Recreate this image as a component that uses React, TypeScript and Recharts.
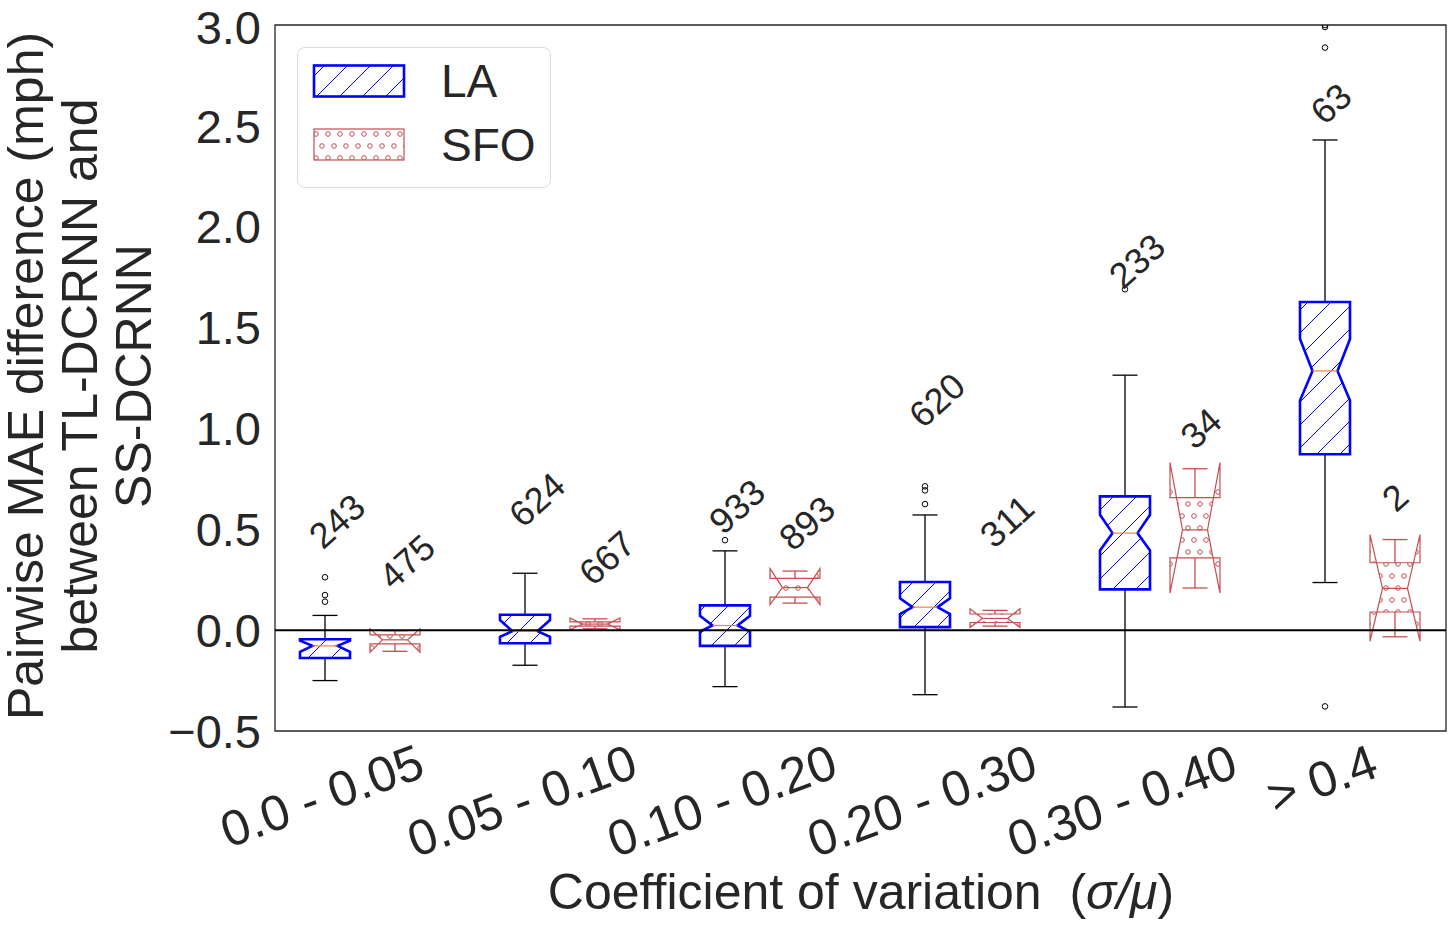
import { ComposedChart, Bar, XAxis, YAxis, ReferenceLine, ReferenceArea, Legend } from 'recharts';

// x categories (coefficient of variation bins)
const categories = ['0.0 - 0.05', '0.05 - 0.10', '0.10 - 0.20', '0.20 - 0.30', '0.30 - 0.40', '> 0.4'];

// LA box stats
const laWhiskerLow = [-0.25, -0.174, -0.28, -0.32, -0.381, 0.236];
const laQ1 = [-0.138, -0.065, -0.078, 0.015, 0.202, 0.872];
const laNotchLow = [-0.108, -0.033, -0.007, 0.08, 0.395, 1.138];
const laMedian = [-0.078, -0.005, 0.023, 0.114, 0.481, 1.285];
const laNotchHigh = [-0.052, 0.05, 0.071, 0.158, 0.572, 1.443];
const laQ3 = [-0.045, 0.076, 0.123, 0.239, 0.663, 1.627];
const laWhiskerHigh = [0.073, 0.282, 0.393, 0.571, 1.264, 2.43];
const laOutliers = [[0.262, 0.174, 0.141], [], [0.446], [0.625, 0.693, 0.713], [1.69], [2.99, 3.0, 2.888, -0.378]];
const laCounts = [243, 624, 933, 620, 233, 63];
const laCountY = [0.54, 0.647, 0.613, 1.14, 1.83, 2.61];

// SFO box stats
const sfoWhiskerLow = [-0.105, 0.007, 0.134, 0.02, 0.209, -0.033];
const sfoQ1 = [-0.068, 0.02, 0.164, 0.038, 0.358, 0.09];
const sfoNotchLow = [-0.11, 0.002, 0.126, 0.013, 0.184, -0.055];
const sfoMedian = [-0.048, 0.03, 0.211, 0.058, 0.497, 0.207];
const sfoNotchHigh = [0.007, 0.06, 0.305, 0.106, 0.831, 0.474];
const sfoQ3 = [-0.023, 0.041, 0.257, 0.08, 0.657, 0.334];
const sfoWhiskerHigh = [-0.003, 0.056, 0.293, 0.098, 0.8, 0.449];
const sfoOutliers: number[][] = [[], [], [], [], [], []];
const sfoCounts = [475, 667, 893, 311, 34, 2];
const sfoCountY = [0.34, 0.358, 0.53, 0.54, 1.0, 0.657];

const yTicks = [-0.5, 0.0, 0.5, 1.0, 1.5, 2.0, 2.5, 3.0];

const FONT = '"Liberation Sans", Arial, Helvetica, sans-serif';
const TEXT = '#262626';
const LA_COLOR = '#0000ff';
const SFO_COLOR = '#c44e52';
const BAR_SIZE = 50;
const BAR_GAP = 20;

type BoxStats = {
  lo: number; q1: number; notchLo: number; med: number; notchHi: number;
  q3: number; hi: number; outliers: number[]; count: number; labelY: number;
};

const laStats: BoxStats[] = categories.map((_, i) => ({
  lo: laWhiskerLow[i], q1: laQ1[i], notchLo: laNotchLow[i], med: laMedian[i],
  notchHi: laNotchHigh[i], q3: laQ3[i], hi: laWhiskerHigh[i],
  outliers: laOutliers[i], count: laCounts[i], labelY: laCountY[i],
}));
const sfoStats: BoxStats[] = categories.map((_, i) => ({
  lo: sfoWhiskerLow[i], q1: sfoQ1[i], notchLo: sfoNotchLow[i], med: sfoMedian[i],
  notchHi: sfoNotchHigh[i], q3: sfoQ3[i], hi: sfoWhiskerHigh[i],
  outliers: sfoOutliers[i], count: sfoCounts[i], labelY: sfoCountY[i],
}));

const data = categories.map((name, i) => ({ pos: i, name, la: laStats[i], sfo: sfoStats[i] }));

type BoxStyle = {
  key: 'la' | 'sfo'; color: string; pattern: string; boxWidth: number;
  whiskerColor: string; medianColor: string;
};

const laStyle: BoxStyle = { key: 'la', color: LA_COLOR, pattern: 'laHatch', boxWidth: 2.6, whiskerColor: '#000', medianColor: '#e8873a' };
const sfoStyle: BoxStyle = { key: 'sfo', color: SFO_COLOR, pattern: 'sfoHatch', boxWidth: 1.2, whiskerColor: SFO_COLOR, medianColor: SFO_COLOR };

// notched box drawn from the bar geometry (bar spans whisker low..high)
function makeBoxShape(s: BoxStyle) {
  return function BoxShape(props: any) {
    const { x, y, width, height, payload } = props;
    const b: BoxStats = payload[s.key];
    const top = Math.min(y, y + height);
    const h = Math.abs(height);
    const py = (v: number) => top + ((b.hi - v) * h) / (b.hi - b.lo);
    const cx = x + width / 2;
    const L = x;
    const R = x + width;
    const nL = cx - width / 4;
    const nR = cx + width / 4;
    const pts: [number, number][] = [
      [L, b.q1], [R, b.q1], [R, b.notchLo], [nR, b.med], [R, b.notchHi],
      [R, b.q3], [L, b.q3], [L, b.notchHi], [nL, b.med], [L, b.notchLo],
    ];
    const d = pts.map(([px, v], i) => `${i ? 'L' : 'M'}${px},${py(v)}`).join(' ') + ' Z';
    const label = String(b.count);
    const lx = cx + (label.length - 1) * 6;
    const ly = py(b.labelY);
    return (
      <g>
        <line x1={cx} x2={cx} y1={py(b.q1)} y2={py(b.lo)} stroke={s.whiskerColor} strokeWidth={1.3} />
        <line x1={cx} x2={cx} y1={py(b.q3)} y2={py(b.hi)} stroke={s.whiskerColor} strokeWidth={1.3} />
        <line x1={nL} x2={nR} y1={py(b.lo)} y2={py(b.lo)} stroke={s.whiskerColor} strokeWidth={1.3} />
        <line x1={nL} x2={nR} y1={py(b.hi)} y2={py(b.hi)} stroke={s.whiskerColor} strokeWidth={1.3} />
        <path d={d} fill="#fff" stroke="none" />
        <path d={d} fill={`url(#${s.pattern})`} stroke="none" />
        <path d={d} fill="none" stroke={s.color} strokeWidth={s.boxWidth} />
        <line x1={nL} x2={nR} y1={py(b.med)} y2={py(b.med)} stroke={s.medianColor} strokeWidth={1.2} />
        {b.outliers.map((v, i) => (
          <circle key={i} cx={cx} cy={py(v)} r={2.8} fill="none" stroke="#000" strokeWidth={1} />
        ))}
        <text
          x={lx}
          y={ly}
          transform={`rotate(-42 ${lx} ${ly})`}
          textAnchor="middle"
          dominantBaseline="central"
          fontSize={36}
          fontFamily={FONT}
          fill={TEXT}
        >
          {label}
        </text>
      </g>
    );
  };
}

// rough Arial advance widths (em) for tick-label layout
const charW: Record<string, number> = { '.': 0.278, ' ': 0.278, '-': 0.333, '>': 0.584 };
const textWidth = (t: string) => t.split('').reduce((a, c) => a + (charW[c] ?? 0.556), 0);

function CategoryTick({ x, y, payload }: any) {
  const label = categories[payload.value];
  if (label === undefined) return null;
  const fs = 50;
  const a = (20 * Math.PI) / 180;
  const w = textWidth(label) * fs;
  const bh = w * Math.sin(a) + fs * 0.72 * Math.cos(a);
  const cx = x - (BAR_SIZE / 2 + BAR_GAP / 2) - 3;
  const cy = y + bh / 2;
  return (
    <text
      x={cx}
      y={cy}
      textAnchor="middle"
      dominantBaseline="central"
      transform={`rotate(-20 ${cx} ${cy})`}
      fontSize={fs}
      fontFamily={FONT}
      fill={TEXT}
    >
      {label}
    </text>
  );
}

function LegendBox() {
  return (
    <div
      style={{
        width: 254, height: 141, boxSizing: 'border-box', border: '1px solid #dcdcdc',
        borderRadius: 8, background: 'rgba(255,255,255,0.85)', position: 'relative',
        fontFamily: FONT, color: TEXT,
      }}
    >
      <svg width={254} height={141} style={{ position: 'absolute', left: -1, top: -1 }}>
        <defs>
          <pattern id="laHatchLeg" patternUnits="userSpaceOnUse" width={23} height={23}>
            <path d="M0,23 L23,0 M-5,5 L5,-5 M18,28 L28,18" stroke={LA_COLOR} strokeWidth={1} />
          </pattern>
          <pattern id="sfoHatchLeg" patternUnits="userSpaceOnUse" width={12} height={24} x={1} y={3}>
            {[[0, 0], [12, 0], [6, 12], [0, 24], [12, 24]].map(([px, pyy], i) => (
              <circle key={i} cx={px} cy={pyy} r={2.3} fill="none" stroke={SFO_COLOR} strokeWidth={1} />
            ))}
          </pattern>
        </defs>
        <rect x={17} y={18.5} width={90} height={31} fill="url(#laHatchLeg)" stroke={LA_COLOR} strokeWidth={2.6} />
        <rect x={17} y={82} width={90} height={31} fill="url(#sfoHatchLeg)" stroke={SFO_COLOR} strokeWidth={1.2} />
        <text x={144} y={34} dominantBaseline="central" fontSize={46} fontFamily={FONT} fill={TEXT}>LA</text>
        <text x={144} y={98} dominantBaseline="central" fontSize={46} fontFamily={FONT} fill={TEXT}>SFO</text>
      </svg>
    </div>
  );
}

const laShape = makeBoxShape(laStyle);
const sfoShape = makeBoxShape(sfoStyle);

export default function App() {
  return (
    <div style={{ position: 'absolute', left: 0, top: 0, background: '#fff' }}>
      <ComposedChart
        width={1452}
        height={929}
        data={data}
        margin={{ top: 25, right: 6, bottom: 0, left: 0 }}
        barSize={BAR_SIZE}
        barGap={BAR_GAP}
      >
        <defs>
          <pattern id="laHatch" patternUnits="userSpaceOnUse" width={23} height={23}>
            <path d="M0,23 L23,0 M-5,5 L5,-5 M18,28 L28,18" stroke={LA_COLOR} strokeWidth={1} />
          </pattern>
          <pattern id="sfoHatch" patternUnits="userSpaceOnUse" width={12} height={24}>
            {[[0, 0], [12, 0], [6, 12], [0, 24], [12, 24]].map(([px, pyy], i) => (
              <circle key={i} cx={px} cy={pyy} r={2.3} fill="none" stroke={SFO_COLOR} strokeWidth={1} />
            ))}
          </pattern>
        </defs>
        <XAxis
          dataKey="pos"
          type="number"
          domain={[-0.425, 5.43]}
          ticks={categories.map((_, i) => i)}
          interval={0}
          allowDataOverflow
          axisLine={false}
          tickLine={false}
          tickSize={0}
          tickMargin={12}
          height={198}
          tick={<CategoryTick />}
          label={{
            content: () => (
              <text x={861} y={909} textAnchor="middle" fontSize={50} fontFamily={FONT} fill={TEXT} style={{ whiteSpace: 'pre' }}>
                {'Coefficient of variation  ('}
                <tspan fontStyle="italic">σ/μ</tspan>
                {')'}
              </text>
            ),
          }}
        />
        <YAxis
          type="number"
          domain={[-0.5, 3.0]}
          ticks={yTicks}
          allowDataOverflow
          width={275}
          axisLine={false}
          tickLine={false}
          tickSize={0}
          tickMargin={14}
          tick={{ fontSize: 47, fill: TEXT, fontFamily: FONT }}
          tickFormatter={(v: number) => (v < 0 ? '\u2212' : '') + Math.abs(v).toFixed(1)}
          label={{
            content: () => (
              <text transform="translate(0, 376) rotate(-90)" textAnchor="middle" fontSize={50} fontFamily={FONT} fill={TEXT}>
                <tspan x={0} y={43}>Pairwise MAE difference (mph)</tspan>
                <tspan x={0} y={97}>between TL-DCRNN and</tspan>
                <tspan x={0} y={151}>SS-DCRNN</tspan>
              </text>
            ),
          }}
        />
        <ReferenceArea x1={-0.425} x2={5.43} y1={-0.5} y2={3.0} fill="none" stroke="#262626" strokeWidth={1.3} />
        <ReferenceLine y={0} stroke="#000" strokeWidth={2} />
        <Bar
          name="LA"
          dataKey={(d: any) => [d.la.lo, d.la.hi]}
          shape={laShape}
          isAnimationActive={false}
        />
        <Bar
          name="SFO"
          dataKey={(d: any) => [d.sfo.lo, d.sfo.hi]}
          shape={sfoShape}
          isAnimationActive={false}
        />
        <Legend
          layout="horizontal"
          verticalAlign="middle"
          align="center"
          wrapperStyle={{ left: 297, top: 47, width: 254, height: 141 }}
          content={() => <LegendBox />}
        />
      </ComposedChart>
    </div>
  );
}
